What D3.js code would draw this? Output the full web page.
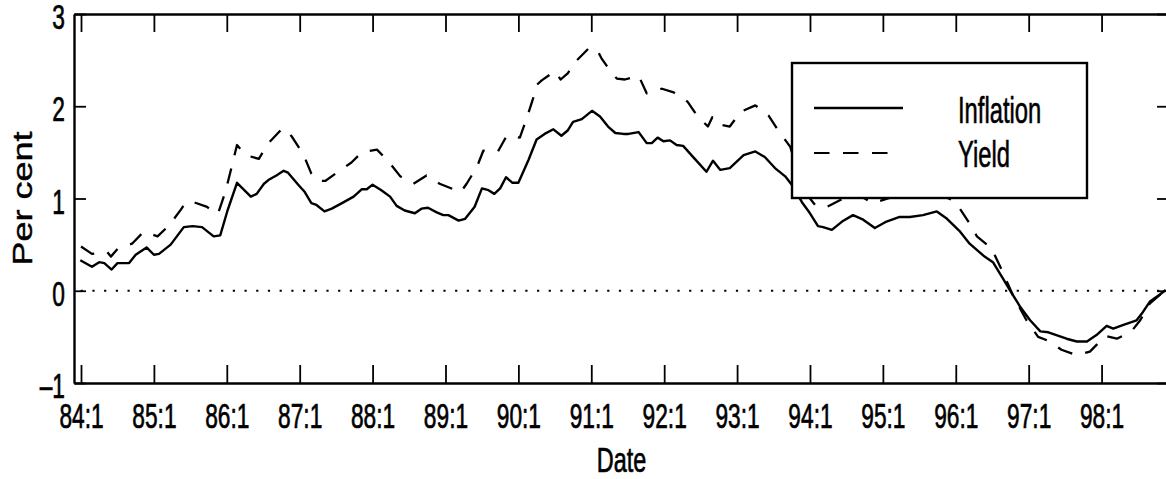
<!DOCTYPE html>
<html><head><meta charset="utf-8">
<script src="https://cdn.jsdelivr.net/npm/d3@7"></script>
<style>body{margin:0;background:#fff;overflow:hidden}svg{display:block}</style>
</head><body><svg id="c" width="1166" height="479"></svg>
<script>
// ---- data (decimal years: 84 = 84:1) ----
const inflationT = [83.99,84.15,84.25,84.32,84.42,84.50,84.66,84.75,84.90,85.00,85.07,85.23,85.41,85.53,85.66,85.82,85.91,86.01,86.14,86.33,86.41,86.51,86.57,86.68,86.78,86.84,86.98,87.07,87.16,87.23,87.34,87.44,87.58,87.74,87.85,87.92,88.00,88.12,88.24,88.33,88.44,88.58,88.67,88.76,88.88,88.97,89.04,89.18,89.27,89.40,89.50,89.59,89.67,89.75,89.83,89.92,90.00,90.14,90.25,90.36,90.48,90.59,90.68,90.75,90.87,91.01,91.12,91.23,91.33,91.44,91.51,91.65,91.76,91.83,91.91,91.99,92.08,92.17,92.26,92.42,92.58,92.67,92.77,92.90,93.09,93.25,93.38,93.52,93.66,93.75,93.89,94.00,94.11,94.18,94.30,94.44,94.59,94.73,94.89,95.05,95.23,95.37,95.55,95.74,95.88,96.06,96.19,96.38,96.51,96.65,96.74,96.88,97.02,97.16,97.27,97.41,97.52,97.66,97.80,97.93,98.07,98.16,98.30,98.48,98.55,98.66,98.80,98.88];
const inflationV = [0.33,0.26,0.31,0.30,0.23,0.30,0.30,0.39,0.47,0.39,0.40,0.50,0.69,0.70,0.69,0.59,0.60,0.87,1.17,1.02,1.05,1.16,1.20,1.25,1.30,1.28,1.15,1.07,0.95,0.93,0.86,0.89,0.95,1.02,1.10,1.10,1.15,1.09,1.02,0.92,0.87,0.84,0.89,0.90,0.85,0.82,0.82,0.76,0.78,0.91,1.11,1.09,1.05,1.11,1.23,1.17,1.17,1.42,1.64,1.70,1.75,1.68,1.74,1.83,1.86,1.95,1.89,1.78,1.71,1.70,1.70,1.72,1.60,1.60,1.66,1.62,1.63,1.58,1.57,1.43,1.29,1.41,1.31,1.33,1.47,1.51,1.45,1.33,1.24,1.15,0.96,0.84,0.70,0.69,0.66,0.75,0.82,0.77,0.68,0.75,0.80,0.80,0.82,0.86,0.78,0.64,0.51,0.38,0.31,0.13,0.01,-0.17,-0.32,-0.44,-0.45,-0.49,-0.52,-0.55,-0.55,-0.48,-0.38,-0.41,-0.37,-0.32,-0.25,-0.12,-0.04,0.01];
const yieldT = [84.00,84.15,84.36,84.41,84.51,84.70,84.86,85.05,85.21,85.37,85.44,85.51,85.73,85.85,85.89,85.98,86.05,86.14,86.26,86.44,86.57,86.75,86.82,86.91,87.05,87.16,87.25,87.35,87.51,87.71,87.85,88.06,88.22,88.38,88.56,88.74,88.92,89.14,89.21,89.29,89.43,89.52,89.72,89.84,90.02,90.11,90.20,90.25,90.32,90.50,90.58,90.68,90.78,90.98,91.10,91.14,91.28,91.35,91.46,91.65,91.76,91.97,92.13,92.32,92.46,92.60,92.66,92.72,92.90,93.05,93.25,93.43,93.57,93.73,93.90,94.07,94.21,94.41,94.58,94.71,94.86,95.07,95.30,95.51,95.76,95.96,96.03,96.19,96.29,96.49,96.61,96.70,96.79,96.97,97.13,97.29,97.45,97.66,97.84,98.05,98.21,98.41,98.53,98.66,98.88];
const yieldV = [0.48,0.40,0.42,0.37,0.46,0.51,0.64,0.59,0.71,0.88,0.96,0.97,0.91,0.83,0.86,1.07,1.29,1.58,1.47,1.43,1.60,1.75,1.75,1.65,1.48,1.27,1.19,1.19,1.28,1.39,1.50,1.53,1.40,1.24,1.16,1.25,1.16,1.09,1.07,1.16,1.34,1.52,1.51,1.68,1.66,1.86,2.08,2.23,2.28,2.38,2.29,2.36,2.48,2.64,2.58,2.52,2.36,2.30,2.29,2.33,2.14,2.19,2.15,2.05,1.89,1.78,1.88,1.81,1.78,1.94,2.01,1.90,1.73,1.56,1.10,0.93,0.90,0.98,1.05,1.02,0.95,1.00,1.05,1.08,1.05,0.98,0.92,0.73,0.59,0.46,0.26,0.10,-0.06,-0.32,-0.50,-0.55,-0.64,-0.70,-0.66,-0.49,-0.52,-0.44,-0.32,-0.14,0.01];
const xTickValues = [84,85,86,87,88,89,90,91,92,93,94,95,96,97,98];
const xTickLabels = ["84:1","85:1","86:1","87:1","88:1","89:1","90:1","91:1","92:1","93:1","94:1","95:1","96:1","97:1","98:1"];
const yTickValues = [-1,0,1,2,3];
const yTickLabels = ["\u20131","0","1","2","3"];
const seriesNames = ["Inflation","Yield"];
const xTitle = "Date";
const yTitle = "Per cent";

// ---- layout ----
const L = 74, R = 1169, T = 14, B = 383;
const FONT = "'Liberation Sans', Arial, Helvetica, sans-serif";
const svg = d3.select("#c");
const x = d3.scaleLinear().domain([83.904, 98.925]).range([L, R]);
const y = d3.scaleLinear().domain([-1, 3]).range([B, T]);

// zero dotted line
svg.append("line")
  .attr("x1", L).attr("x2", R).attr("y1", y(0)).attr("y2", y(0))
  .attr("stroke", "#000").attr("stroke-width", 2.2)
  .attr("stroke-dasharray", "2.2,9.5").attr("stroke-dashoffset", 5);

const line = d3.line().x(d => x(d[0])).y(d => y(d[1]));
const inflation = inflationT.map((t, i) => [t, inflationV[i]]);
const yld = yieldT.map((t, i) => [t, yieldV[i]]);

svg.append("path").datum(yld).attr("d", line)
  .attr("fill", "none").attr("stroke", "#000").attr("stroke-width", 2.3)
  .attr("stroke-dasharray", "15.5,13.5").attr("stroke-linejoin", "round");
svg.append("path").datum(inflation).attr("d", line)
  .attr("fill", "none").attr("stroke", "#000").attr("stroke-width", 2.4)
  .attr("stroke-linejoin", "round");

// axes
const fmtX = d => xTickLabels[xTickValues.indexOf(d)];
const fmtY = d => yTickLabels[yTickValues.indexOf(d)];

const gB = svg.append("g").attr("transform", `translate(0,${B})`)
  .call(d3.axisBottom(x).tickValues(xTickValues).tickFormat(fmtX).tickSizeInner(-18).tickSizeOuter(0).tickPadding(20));
const gT = svg.append("g").attr("transform", `translate(0,${T})`)
  .call(d3.axisTop(x).tickValues(xTickValues).tickFormat("").tickSizeInner(-18).tickSizeOuter(0));
const gL = svg.append("g").attr("transform", `translate(${L},0)`)
  .call(d3.axisLeft(y).tickValues(yTickValues).tickFormat(fmtY).tickSizeInner(-12).tickSizeOuter(0).tickPadding(9));
const gR = svg.append("g").attr("transform", `translate(${R},0)`)
  .call(d3.axisRight(y).tickValues(yTickValues).tickFormat("").tickSizeInner(-12).tickSizeOuter(0));

[gB, gT, gL, gR].forEach(g => {
  g.select(".domain").attr("stroke", "#000").attr("stroke-width", 2.4);
  g.selectAll(".tick line").attr("stroke", "#000").attr("stroke-width", 1.8);
});
const SX = 0.65;
gB.selectAll(".tick text")
  .attr("font-family", FONT).attr("font-size", 35).attr("fill", "#000")
  .attr("stroke", "#000").attr("stroke-width", 0.7)
  .attr("transform", `scale(${SX},1)`);
gL.selectAll(".tick text")
  .attr("font-family", FONT).attr("font-size", 35).attr("fill", "#000")
  .attr("stroke", "#000").attr("stroke-width", 0.7)
  .attr("x", -9 / SX).attr("dy", "0.42em")
  .attr("transform", `scale(${SX},1)`);

// titles
svg.append("text").attr("font-family", FONT).attr("font-size", 35)
  .attr("stroke", "#000").attr("stroke-width", 0.7)
  .attr("text-anchor", "middle")
  .attr("transform", `translate(${(L + R) / 2},472) scale(0.67,1)`).text(xTitle);
svg.append("text").attr("font-family", FONT).attr("font-size", 36)
  .attr("stroke", "#000").attr("stroke-width", 0.5)
  .attr("text-anchor", "middle")
  .attr("transform", `translate(32,${(T + B) / 2}) rotate(-90) scale(1,0.78)`).text(yTitle);

// legend
const lg = svg.append("g");
lg.append("rect").attr("x", 792).attr("y", 63).attr("width", 295).attr("height", 135)
  .attr("fill", "#fff").attr("stroke", "#000").attr("stroke-width", 2.4);
lg.append("line").attr("x1", 814).attr("x2", 903).attr("y1", 108).attr("y2", 108)
  .attr("stroke", "#000").attr("stroke-width", 2.6);
lg.append("line").attr("x1", 814).attr("x2", 889).attr("y1", 153).attr("y2", 153)
  .attr("stroke", "#000").attr("stroke-width", 1.8).attr("stroke-dasharray", "15.5,13.5");
lg.append("text").attr("font-family", FONT).attr("font-size", 36)
  .attr("stroke", "#000").attr("stroke-width", 0.6)
  .attr("transform", "translate(958,122.5) scale(0.66,1)").text(seriesNames[0]);
lg.append("text").attr("font-family", FONT).attr("font-size", 36)
  .attr("stroke", "#000").attr("stroke-width", 0.6)
  .attr("transform", "translate(958,166.5) scale(0.66,1)").text(seriesNames[1]);
</script>
</body></html>
